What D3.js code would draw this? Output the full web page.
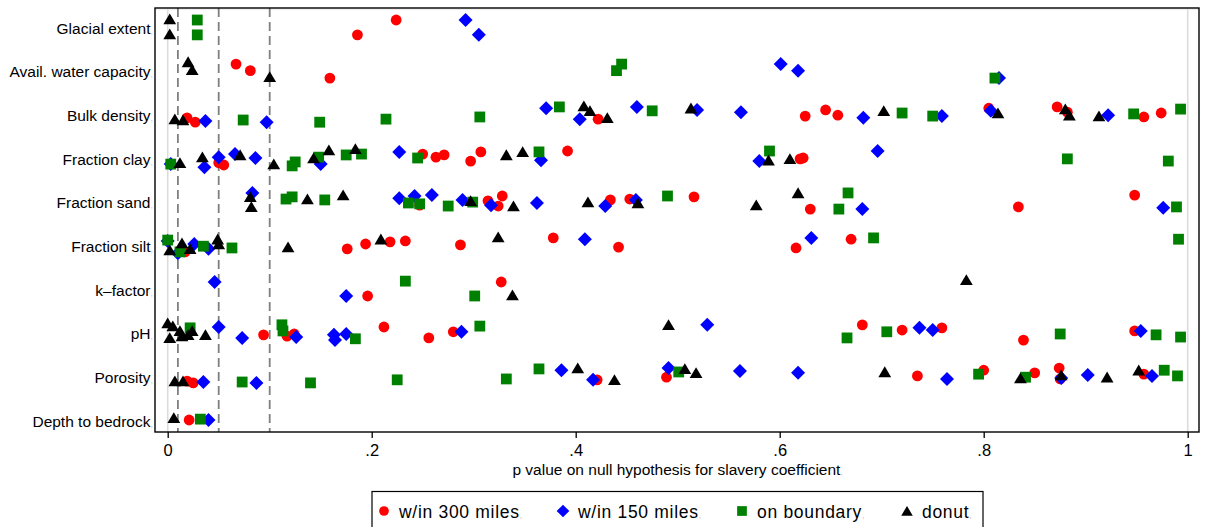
<!DOCTYPE html>
<html>
<head>
<meta charset="utf-8">
<script src="https://cdn.jsdelivr.net/npm/d3@7"></script>
<style>
  html, body { margin: 0; padding: 0; background: #fff; }
  svg { display: block; font-family: "Liberation Sans", Arial, Helvetica, sans-serif; }
</style>
</head>
<body>
<svg id="chart" width="1209" height="527"></svg>
<script>
// Soil covariates, top to bottom
const variables = [
  "Glacial extent", "Avail. water capacity", "Bulk density", "Fraction clay",
  "Fraction sand", "Fraction silt", "k\u2013factor", "pH", "Porosity", "Depth to bedrock"
];

const seriesNames = ["w/in 300 miles", "w/in 150 miles", "on boundary", "donut"];
const xTicks = [0, 0.2, 0.4, 0.6, 0.8, 1];
const xTickLabels = ["0", ".2", ".4", ".6", ".8", "1"];
const refLines = [0.01, 0.05, 0.1];

// Each entry: [p value, vertical jitter in row units], grouped by covariate
const within300 = [
  [[0.224,-0.16],[0.186,0.18]],
  [[0.067,-0.15],[0.081,0.0],[0.159,0.17]],
  [[0.019,0.08],[0.027,0.18],[0.422,0.11],[0.625,0.04],[0.645,-0.10],[0.657,0.02],[0.805,-0.14],[0.872,-0.17],[0.882,-0.05],[0.957,0.06],[0.974,-0.03]],
  [[0.050,0.11],[0.055,0.16],[0.250,-0.09],[0.263,-0.02],[0.271,-0.07],[0.297,0.07],[0.307,-0.14],[0.392,-0.16],[0.620,0.02],[0.623,0.00]],
  [[0.247,0.08],[0.314,-0.02],[0.324,0.10],[0.328,-0.13],[0.434,-0.04],[0.453,-0.06],[0.516,-0.11],[0.630,0.17],[0.834,0.12],[0.948,-0.15]],
  [[0.017,0.15],[0.176,0.08],[0.194,-0.03],[0.218,-0.08],[0.233,-0.10],[0.287,-0.01],[0.378,-0.17],[0.442,0.04],[0.616,0.06],[0.670,-0.14]],
  [[0.196,0.16],[0.327,-0.16]],
  [[0.094,0.05],[0.117,0.08],[0.124,0.03],[0.212,-0.13],[0.256,0.12],[0.280,-0.02],[0.681,-0.18],[0.720,-0.06],[0.759,-0.11],[0.839,0.17],[0.948,-0.04]],
  [[0.019,0.11],[0.025,0.15],[0.421,0.08],[0.489,0.02],[0.735,-0.01],[0.800,-0.14],[0.850,-0.08],[0.874,-0.19],[0.875,0.06],[0.957,-0.05]],
  [[0.021,0.0]]
];

const within150 = [
  [[0.292,-0.16],[0.305,0.18]],
  [[0.601,-0.15],[0.618,0.0],[0.815,0.17]],
  [[0.037,0.15],[0.097,0.18],[0.371,-0.14],[0.404,0.11],[0.460,-0.17],[0.519,-0.10],[0.562,-0.05],[0.682,0.08],[0.759,0.04],[0.807,-0.08],[0.922,0.02]],
  [[0.003,0.14],[0.036,0.21],[0.050,-0.02],[0.066,-0.09],[0.086,0.00],[0.150,0.14],[0.227,-0.14],[0.366,0.05],[0.580,0.07],[0.696,-0.16]],
  [[0.083,-0.20],[0.227,-0.08],[0.242,-0.13],[0.259,-0.15],[0.289,-0.04],[0.317,0.08],[0.362,0.03],[0.429,0.10],[0.459,-0.04],[0.681,0.17],[0.976,0.14]],
  [[0.000,-0.10],[0.010,0.18],[0.026,-0.03],[0.040,0.08],[0.409,-0.14],[0.631,-0.17]],
  [[0.046,-0.16],[0.175,0.16]],
  [[0.050,-0.13],[0.073,0.12],[0.126,0.10],[0.163,0.05],[0.164,0.17],[0.175,0.03],[0.288,-0.02],[0.529,-0.18],[0.737,-0.11],[0.750,-0.06],[0.954,-0.04]],
  [[0.035,0.13],[0.087,0.15],[0.386,-0.14],[0.417,0.08],[0.491,-0.19],[0.561,-0.12],[0.618,-0.08],[0.764,0.06],[0.876,0.04],[0.902,-0.03],[0.965,-0.01]],
  [[0.040,0.0]]
];

const onBoundary = [
  [[0.029,-0.16],[0.029,0.18]],
  [[0.445,-0.15],[0.440,0.0],[0.811,0.17]],
  [[0.074,0.13],[0.149,0.18],[0.214,0.11],[0.306,0.06],[0.384,-0.17],[0.475,-0.08],[0.720,-0.03],[0.750,0.04],[0.947,-0.01],[0.993,-0.12]],
  [[0.003,0.14],[0.122,0.18],[0.125,0.09],[0.148,-0.02],[0.175,-0.07],[0.190,-0.09],[0.245,0.00],[0.364,-0.14],[0.590,-0.16],[0.882,0.02],[0.981,0.07]],
  [[0.116,-0.06],[0.122,-0.11],[0.154,-0.04],[0.236,0.03],[0.247,0.05],[0.275,0.10],[0.299,0.01],[0.490,-0.13],[0.658,0.17],[0.667,-0.20],[0.989,0.12]],
  [[0.000,-0.12],[0.012,0.15],[0.035,0.02],[0.063,0.06],[0.692,-0.17],[0.991,-0.14]],
  [[0.233,-0.18],[0.301,0.16]],
  [[0.022,-0.11],[0.112,-0.18],[0.113,-0.04],[0.184,0.14],[0.306,-0.15],[0.666,0.12],[0.705,-0.02],[0.875,0.03],[0.969,0.05],[0.993,0.10]],
  [[0.073,0.13],[0.140,0.15],[0.225,0.08],[0.332,0.06],[0.364,-0.17],[0.501,-0.10],[0.795,-0.05],[0.841,0.02],[0.977,-0.14],[0.990,-0.01]],
  [[0.032,-0.02]]
];

const donut = [
  [[0.002,-0.18],[0.002,0.16]],
  [[0.020,-0.20],[0.024,-0.02],[0.100,0.14]],
  [[0.007,0.11],[0.015,0.13],[0.408,-0.19],[0.414,-0.08],[0.431,0.08],[0.513,-0.14],[0.702,-0.08],[0.814,-0.03],[0.880,-0.12],[0.884,0.02],[0.913,0.04]],
  [[0.012,0.11],[0.034,-0.02],[0.071,-0.07],[0.104,0.14],[0.143,0.00],[0.158,-0.18],[0.184,-0.21],[0.332,-0.07],[0.348,-0.14],[0.589,0.05],[0.610,0.02]],
  [[0.081,-0.11],[0.082,0.12],[0.137,-0.06],[0.172,-0.15],[0.297,-0.02],[0.339,0.10],[0.412,0.01],[0.461,0.03],[0.577,0.08],[0.618,-0.20]],
  [[0.002,0.11],[0.014,-0.05],[0.022,0.08],[0.049,-0.14],[0.050,-0.03],[0.118,0.04],[0.209,-0.14],[0.324,-0.19]],
  [[0.338,0.14],[0.783,-0.21]],
  [[0.000,-0.22],[0.005,-0.15],[0.002,0.12],[0.012,-0.04],[0.014,0.08],[0.020,0.05],[0.024,-0.04],[0.037,0.05],[0.491,-0.18]],
  [[0.007,0.11],[0.015,0.11],[0.402,-0.19],[0.438,0.08],[0.507,-0.17],[0.518,-0.08],[0.703,-0.10],[0.836,0.04],[0.876,-0.03],[0.921,0.02],[0.952,-0.14]],
  [[0.006,-0.05]]
];

// Marker shapes (paths centred on 0,0)
const markerPaths = {
  circle: "M5.4,0A5.4,5.4 0 1,1 -5.4,0A5.4,5.4 0 1,1 5.4,0Z",
  diamond: "M0,-7L7,0L0,7L-7,0Z",
  square: "M-5.4,-5.4H5.4V5.4H-5.4Z",
  triangle: "M0,-5.6L6.4,5.2H-6.4Z"
};

const series = [
  { name: seriesNames[0], data: within300, color: "#ff0000", shape: "circle" },
  { name: seriesNames[1], data: within150, color: "#0000ff", shape: "diamond" },
  { name: seriesNames[2], data: onBoundary, color: "#008000", shape: "square" },
  { name: seriesNames[3], data: donut, color: "#000000", shape: "triangle" }
];

const svg = d3.select("#chart");
const plot = { left: 155, top: 8, right: 1199, bottom: 432 };

const x = d3.scaleLinear().domain([0, 1]).range([167.7, 1187.7]);
const y = d3.scaleLinear().domain([0, variables.length - 1]).range([27, 420]);

// Light reference lines at p = 0 and p = 1
svg.append("g").selectAll("line").data([0, 1]).join("line")
  .attr("x1", d => x(d)).attr("x2", d => x(d))
  .attr("y1", plot.top).attr("y2", plot.bottom)
  .attr("stroke", "#dcdcdc").attr("stroke-width", 1.6);

svg.append("line")
  .attr("x1", plot.left).attr("x2", plot.right)
  .attr("y1", plot.top + 1.6).attr("y2", plot.top + 1.6)
  .attr("stroke", "#ececec").attr("stroke-width", 1);

// Dashed significance thresholds
svg.append("g").selectAll("line").data(refLines).join("line")
  .attr("x1", d => x(d)).attr("x2", d => x(d))
  .attr("y1", plot.top).attr("y2", plot.bottom)
  .attr("stroke", "#7f7f7f").attr("stroke-width", 1.8)
  .attr("stroke-dasharray", "9,5");

// Points, one layer per series
series.forEach(s => {
  const pts = [];
  s.data.forEach((rowPts, i) => rowPts.forEach(([p, j]) => pts.push({ p, row: i + j })));
  svg.append("g").selectAll("path").data(pts).join("path")
    .attr("d", markerPaths[s.shape])
    .attr("transform", d => `translate(${x(d.p)},${y(d.row)})`)
    .attr("fill", s.color);
});

// Plot frame
svg.append("rect")
  .attr("x", plot.left).attr("y", plot.top)
  .attr("width", plot.right - plot.left).attr("height", plot.bottom - plot.top)
  .attr("fill", "none").attr("stroke", "#000").attr("stroke-width", 1.4);

// Covariate labels
const yLab = svg.append("g").selectAll("text").data(variables).join("text")
  .attr("x", 153).attr("y", (d, i) => y(i) + 6.5)
  .attr("text-anchor", "end").attr("font-size", 15.5).attr("fill", "#000");
yLab.append("tspan").text(d => d);
yLab.append("tspan").text(",").attr("fill", "#c8c8c8").attr("font-size", 9);

// X axis
const xAxis = d3.axisBottom(x).tickValues(xTicks)
  .tickFormat((d, i) => xTickLabels[i]).tickSize(6).tickPadding(6);
const gx = svg.append("g").attr("transform", `translate(0,${plot.bottom})`).call(xAxis);
gx.select(".domain").remove();
gx.selectAll(".tick line").attr("stroke", "#000").attr("stroke-width", 1.3);
gx.selectAll(".tick text").attr("font-size", 16.5).attr("fill", "#000")
  .attr("font-family", "'Liberation Sans', Arial, sans-serif").attr("dy", "0.75em");

const xTitle = svg.append("text")
  .attr("x", (x(0) + x(1)) / 2).attr("y", 475)
  .attr("text-anchor", "middle").attr("font-size", 15.5).attr("fill", "#000");
xTitle.append("tspan").text("p value on null hypothesis for slavery coefficient");
xTitle.append("tspan").text(",").attr("fill", "#c8c8c8").attr("font-size", 9);

// Legend
const legend = svg.append("g");
legend.append("rect")
  .attr("x", 372).attr("y", 491.5).attr("width", 611).attr("height", 60)
  .attr("fill", "#fff").attr("stroke", "#000").attr("stroke-width", 1.2);
const legendPos = [384, 563, 742, 907];
series.forEach((s, i) => {
  const g = legend.append("g").attr("transform", `translate(${legendPos[i]},511)`);
  g.append("path").attr("d", markerPaths[s.shape]).attr("fill", s.color)
    .attr("transform", "scale(0.9)");
  const t = g.append("text").attr("x", 15).attr("y", 6.5)
    .attr("font-size", 17.5).attr("letter-spacing", 0.7).attr("fill", "#000");
  t.append("tspan").text(s.name);
  t.append("tspan").text(",").attr("fill", "#c8c8c8").attr("font-size", 9).attr("letter-spacing", 0);
});
</script>
</body>
</html>
